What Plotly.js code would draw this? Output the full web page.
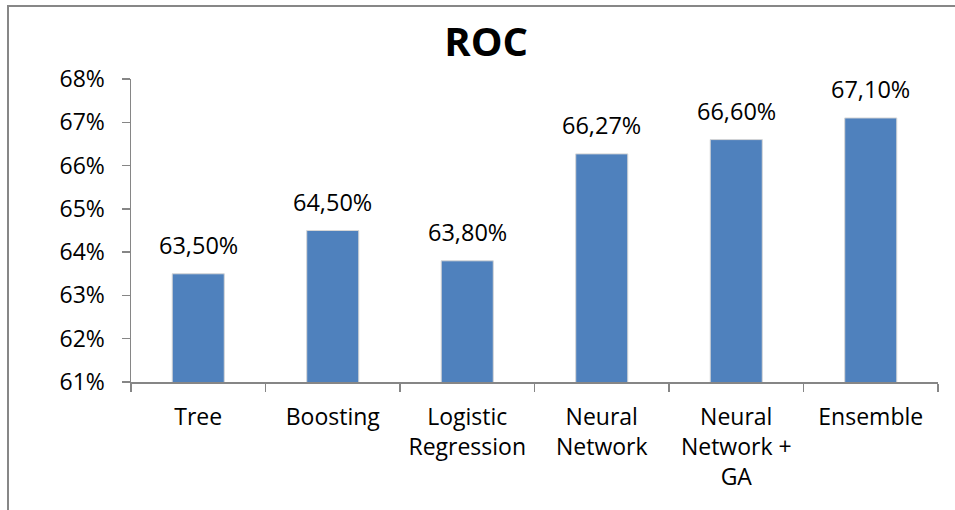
<!DOCTYPE html>
<html>
<head>
<meta charset="utf-8">
<script src="https://cdn.plot.ly/plotly-3.0.1.min.js"></script>
<style>
  html, body { margin: 0; padding: 0; background: #fff; }
  #wrap { position: relative; width: 955px; height: 510px; overflow: hidden; }
  #chart { position: absolute; left: 0; top: 0; width: 955px; height: 510px; }
  #frame { position: absolute; left: 7px; top: 5px; width: 2000px; height: 2000px;
           border-left: 2px solid #878787; border-top: 2px solid #878787; pointer-events: none; }
</style>
</head>
<body>
<div id="wrap">
  <div id="chart"></div>
  <div id="frame"></div>
</div>
<script>
const categories = ['Tree', 'Boosting', 'Logistic<br>Regression', 'Neural<br>Network', 'Neural<br>Network +<br>GA', 'Ensemble'];
const rocValues = [0.6350, 0.6450, 0.6380, 0.6627, 0.6660, 0.6710];
const yTickValues = [0.61, 0.62, 0.63, 0.64, 0.65, 0.66, 0.67, 0.68];

const FONT = 'Open Sans, DejaVu Sans, sans-serif';

const trace = {
  type: 'bar',
  x: categories,
  y: rocValues,
  width: 0.387,
  marker: { color: '#4F81BD', line: { color: '#d6d6d6', width: 1 } },
  hoverinfo: 'none'
};

const annotations = categories.map((c, i) => ({
  x: c, y: rocValues[i], xref: 'x', yref: 'y',
  text: (rocValues[i] * 100).toFixed(2).replace('.', ',') + '%',
  showarrow: false, yanchor: 'bottom', yshift: 11,
  font: { family: FONT, size: 23.5, color: '#000' }
}));

const layout = {
  width: 955, height: 510,
  margin: { l: 131, r: 17, t: 79, b: 128 },
  paper_bgcolor: 'rgba(0,0,0,0)',
  plot_bgcolor: 'rgba(0,0,0,0)',
  separators: ',.',
  showlegend: false,
  title: {
    text: '<b>ROC</b>',
    font: { family: FONT, size: 40, color: '#000' },
    x: 0.509, xref: 'container', xanchor: 'center',
    y: 0.918, yref: 'container', yanchor: 'middle'
  },
  xaxis: {
    type: 'category',
    showline: true, linecolor: '#868686', linewidth: 1.5,
    ticks: 'outside', ticklen: 8, tickcolor: '#868686', tickwidth: 1.5,
    tickson: 'boundaries',
    showgrid: false, zeroline: false,
    tickfont: { family: FONT, size: 23, color: '#000' },
    ticklabelstandoff: 14,
    range: [-0.5, 5.5]
  },
  yaxis: {
    range: [0.61, 0.68],
    tickvals: yTickValues,
    tickformat: '.0%',
    showline: true, linecolor: '#868686', linewidth: 1.5,
    ticks: 'outside', ticklen: 8, tickcolor: '#868686', tickwidth: 1.5,
    showgrid: false, zeroline: false,
    tickfont: { family: FONT, size: 23, color: '#000' },
    ticklabelstandoff: 12
  },
  annotations: annotations
};

Plotly.newPlot('chart', [trace], layout, { displayModeBar: false, staticPlot: true });
</script>
</body>
</html>
